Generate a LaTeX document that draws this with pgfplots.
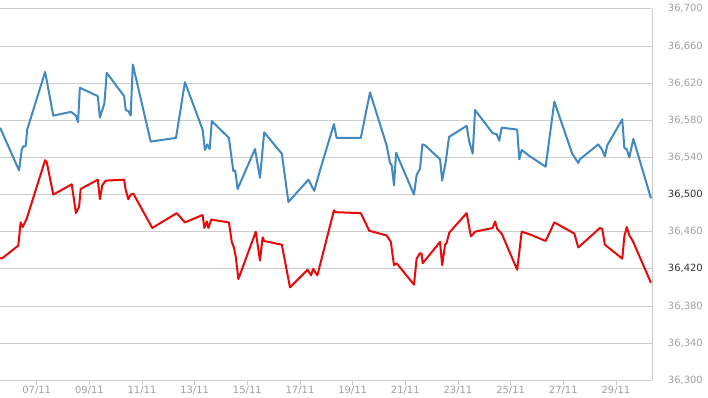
\documentclass[border=0pt]{standalone}
\usepackage{fontspec}
\setmainfont{DejaVu Sans}
\usepackage{pgfplots}
\pgfplotsset{compat=1.18}
\definecolor{blueline}{HTML}{4189C0}
\definecolor{redline}{HTML}{E80A0A}
\definecolor{gridc}{HTML}{CCCCCC}
\definecolor{lab}{HTML}{A0A0A0}
\definecolor{labd}{HTML}{333333}
\begin{document}
\begin{tikzpicture}
\begin{axis}[
  at={(0bp,17.7bp)}, anchor=south west,
  scale only axis, width=652bp, height=371.5bp,
  xmin=5.606, xmax=30.37, ymin=36300, ymax=36700,
  axis x line*=bottom, axis y line*=right,
  axis line style={draw=gridc, line width=1bp},
  xtick={7,9,...,29},
  xticklabels={07/11,09/11,11/11,13/11,15/11,17/11,19/11,21/11,23/11,25/11,27/11,29/11},
  ytick={36300,36340,...,36700},
  yticklabels={{\textcolor{lab}{36,300}},{\textcolor{lab}{36,340}},{\textcolor{lab}{36,380}},{\textcolor{labd}{36,420}},{\textcolor{lab}{36,460}},{\textcolor{labd}{36,500}},{\textcolor{lab}{36,540}},{\textcolor{lab}{36,580}},{\textcolor{lab}{36,620}},{\textcolor{lab}{36,660}},{\textcolor{lab}{36,700}}},
  ymajorgrids, grid style={draw=gridc, line width=0.8bp},
  tick align=outside, major tick length=5bp,
  xtick style={draw=gridc, line width=0.8bp},
  ytick style={draw=none},
  xticklabel style={font=\fontsize{10}{12}\selectfont, text=lab, inner sep=0pt, anchor=north, yshift=-1bp},
  yticklabel style={font=\fontsize{10}{12}\selectfont, inner sep=0pt, anchor=east, xshift=46bp},
]
\addplot[blueline, line width=2bp, line join=round] coordinates {
(5.61,36572)(6.33,36526)(6.43,36548)(6.49,36552)(6.58,36552)(6.64,36570)
(7.32,36632)(7.63,36585)(8.30,36589)(8.49,36585)(8.57,36578)(8.64,36615)
(9.32,36606)(9.40,36583)(9.57,36598)(9.66,36631)(10.32,36606)(10.38,36591)
(10.48,36590)(10.57,36585)(10.65,36640)(11.33,36557)(12.29,36561)(12.63,36621)
(13.30,36570)(13.39,36548)(13.48,36554)(13.57,36549)(13.65,36579)(14.30,36561)
(14.47,36525)(14.54,36526)(14.63,36506)(15.29,36549)(15.48,36518)(15.64,36567)
(16.31,36544)(16.56,36492)(17.32,36516)(17.54,36504)(17.76,36526)(18.29,36576)
(18.39,36561)(19.31,36561)(19.66,36610)(20.29,36553)(20.42,36534)(20.48,36532)
(20.57,36510)(20.65,36545)(21.33,36500)(21.43,36521)(21.56,36528)(21.65,36554)
(21.75,36553)(22.32,36538)(22.40,36515)(22.54,36536)(22.66,36562)(23.33,36574)
(23.42,36558)(23.56,36544)(23.65,36591)(24.32,36566)(24.47,36565)(24.57,36558)
(24.66,36572)(25.25,36570)(25.33,36538)(25.42,36548)(25.74,36541)(26.33,36530)
(26.66,36600)(27.34,36544)(27.57,36534)(27.63,36538)(28.33,36554)(28.48,36548)
(28.58,36541)(28.67,36553)(29.24,36581)(29.32,36550)(29.41,36549)(29.51,36540)
(29.66,36560)(30.33,36496)
};
\addplot[redline, line width=2bp, line join=round] coordinates {
(5.61,36432)(5.67,36431)(6.30,36445)(6.39,36470)(6.47,36465)(6.62,36474)
(7.32,36537)(7.38,36535)(7.63,36500)(8.33,36511)(8.49,36480)(8.61,36487)
(8.67,36506)(9.32,36516)(9.40,36495)(9.49,36510)(9.62,36515)(10.32,36516)
(10.38,36505)(10.48,36495)(10.57,36500)(10.67,36501)(11.39,36464)(12.32,36480)
(12.63,36470)(13.30,36478)(13.37,36464)(13.46,36471)(13.52,36464)(13.63,36473)
(14.30,36470)(14.41,36449)(14.49,36443)(14.56,36433)(14.66,36409)(15.32,36460)
(15.48,36429)(15.58,36454)(15.64,36450)(16.31,36446)(16.62,36400)(17.29,36419)
(17.42,36413)(17.50,36420)(17.66,36413)(18.29,36483)(18.35,36481)(19.31,36480)
(19.63,36461)(20.29,36456)(20.45,36449)(20.57,36424)(20.67,36426)(21.33,36403)
(21.43,36431)(21.56,36437)(21.62,36436)(21.66,36426)(22.32,36449)(22.40,36424)
(22.51,36446)(22.57,36448)(22.67,36459)(23.33,36480)(23.49,36455)(23.65,36460)
(24.32,36464)(24.41,36471)(24.49,36463)(24.66,36458)(25.25,36419)(25.42,36460)
(25.74,36457)(26.33,36450)(26.66,36470)(27.42,36458)(27.57,36443)(28.39,36464)
(28.48,36463)(28.58,36446)(29.24,36431)(29.32,36455)(29.41,36465)(29.51,36456)
(29.64,36450)(30.33,36405)
};
\end{axis}
\pgfresetboundingbox
\useasboundingbox (0,0) rectangle (708bp,398bp);
\end{tikzpicture}
\end{document}
